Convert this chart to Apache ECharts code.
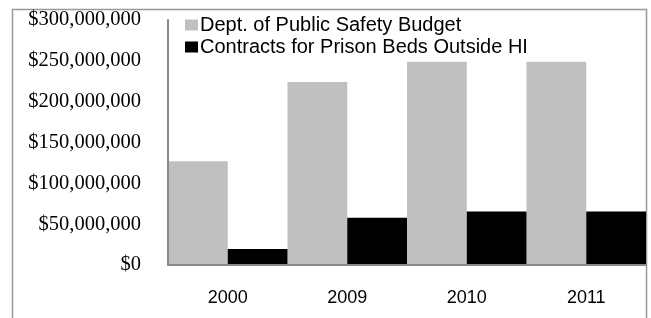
<!DOCTYPE html>
<html>
<head>
<meta charset="utf-8">
<script src="https://cdn.jsdelivr.net/npm/echarts@6/dist/echarts.min.js"></script>
<style>
  html, body { margin: 0; padding: 0; background: #fff; }
  #chart { width: 651px; height: 318px; }
</style>
</head>
<body>
<div id="chart"></div>
<script>
// years on the x axis
var years = ['2000', '2009', '2010', '2011'];
// Dept. of Public Safety Budget
var budget = [127000000, 224000000, 249000000, 249000000];
// Contracts for Prison Beds Outside HI
var contracts = [19500000, 58000000, 65500000, 65500000];
var seriesNames = ['Dept. of Public Safety Budget', 'Contracts for Prison Beds Outside HI'];

var chart = echarts.init(document.getElementById('chart'));

function money(v) {
  return '$' + v.toLocaleString('en-US');
}

var option = {
  animation: false,
  graphic: [{
    type: 'rect',
    shape: { x: 12.5, y: 9.5, width: 634, height: 320 },
    style: { fill: 'none', stroke: '#999', lineWidth: 1.5 },
    z: -1
  }],
  legend: {
    orient: 'vertical',
    left: 180,
    top: 10,
    itemWidth: 13,
    itemHeight: 11,
    itemGap: 2,
    icon: 'rect',
    textStyle: { fontFamily: 'Liberation Sans', fontSize: 20, color: '#000', lineHeight: 18, padding: [0, 0, 0, -3] },
    data: seriesNames
  },
  grid: { left: 168, right: 5, top: 20, bottom: 53 },
  xAxis: {
    type: 'category',
    data: years,
    z: 5,
    axisLine: { lineStyle: { color: '#888', width: 2 } },
    axisTick: { show: false },
    axisLabel: { fontFamily: 'Liberation Sans', fontSize: 18, color: '#000', margin: 24 }
  },
  yAxis: {
    type: 'value',
    min: 0,
    max: 300000000,
    interval: 50000000,
    z: 5,
    axisLine: { show: true, lineStyle: { color: '#888', width: 2 } },
    axisTick: { show: false },
    splitLine: { show: false },
    axisLabel: { fontFamily: 'Liberation Serif', fontSize: 20.5, color: '#000', margin: 27, formatter: money }
  },
  series: [
    {
      name: seriesNames[0],
      type: 'bar',
      data: budget,
      barGap: '0%',
      barCategoryGap: '0%',
      itemStyle: { color: '#c0c0c0' }
    },
    {
      name: seriesNames[1],
      type: 'bar',
      data: contracts,
      barGap: '0%',
      barCategoryGap: '0%',
      itemStyle: { color: '#000' }
    }
  ]
};

chart.setOption(option);
</script>
</body>
</html>
